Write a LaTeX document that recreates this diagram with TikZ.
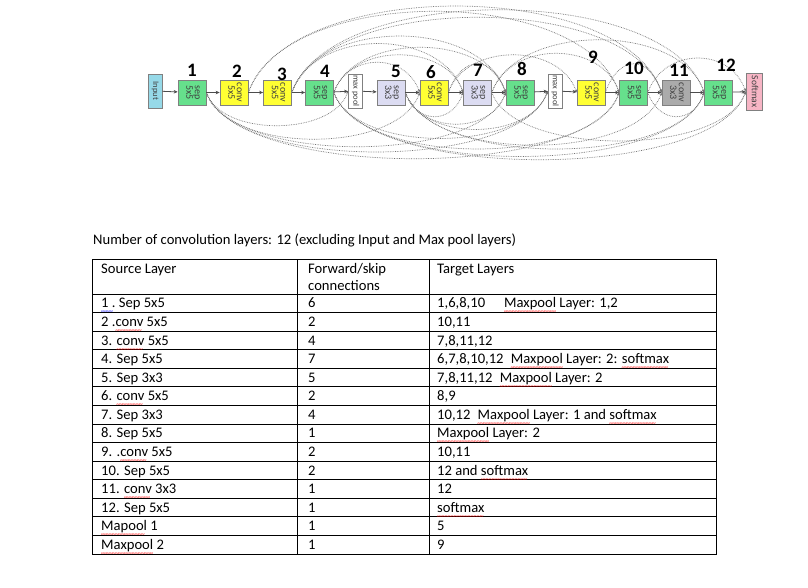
\documentclass[tikz,border=0pt]{standalone}
\usepackage{fontspec}
\setmainfont{Carlito}
\usetikzlibrary{arrows.meta}
\definecolor{cgreen}{HTML}{66E08C}
\definecolor{cyellow}{HTML}{FFFF33}
\definecolor{clav}{HTML}{DCDCF2}
\definecolor{cgray}{HTML}{ABABAB}
\definecolor{cblue}{HTML}{96D9E8}
\definecolor{cpink}{HTML}{F7B5C5}
\newcommand\rt[1]{\rotatebox{-90}{\renewcommand{\arraystretch}{0.72}\begin{tabular}{@{}c@{}}#1\end{tabular}}}
\newcommand\wv[2]{\setbox0\hbox{#2}\rlap{\raisebox{-6pt}[0pt][0pt]{\color{#1}\fontsize{7}{7}\selectfont\leaders\hbox{\kern-0.3pt\char"7E\kern-0.3pt}\hskip\wd0}}\box0\relax}
\newcommand\spl[1]{\wv{red}{#1}}
\newcommand\bwv[1]{\wv{blue}{#1}}
\newcommand\skipup[3]{\draw[skipc] (#1.east) .. controls +({0.35*#3},{-#3}) and +({-0.35*#3},{-#3}) .. (#2.west);}
\newcommand\skipdn[3]{\draw[skipc] (#1.east) .. controls +({0.35*#3},{#3}) and +({-0.35*#3},{#3}) .. (#2.west);}
\pgfdeclarelayer{bg}
\pgfsetlayers{bg,main}
\begin{document}
\begin{tikzpicture}[x=1pt,y=-1pt,
  box/.style={draw=black!50, line width=0.7pt, inner sep=0pt, minimum width=28pt, minimum height=25pt, font=\fontsize{10}{10}\selectfont, text=black!75},
  sepg/.style={box, fill=cgreen},
  convy/.style={box, fill=cyellow},
  sepl/.style={box, fill=clav},
  convg/.style={box, fill=cgray},
  tall/.style={draw=black!50, line width=0.7pt, inner sep=0pt, minimum width=14pt, minimum height=34pt, font=\fontsize{8.5}{8.5}\selectfont, text=black!75},
  num/.style={font=\fontsize{19}{19}\selectfont\bfseries, inner sep=0pt},
  fwd/.style={draw=black!70, line width=0.8pt, -{Stealth[length=4pt,width=3.5pt]}},
  skipc/.style={draw=black!55, densely dotted, line width=0.7pt, -{Stealth[length=3pt,width=2.5pt]}},
  cell/.style={anchor=base west, inner sep=0pt, font=\fontsize{14.6}{17}\selectfont},
  tline/.style={draw=black, line width=0.9pt}]
\useasboundingbox (0,0) rectangle (808,587);
\begin{pgfonlayer}{bg}
\fill[white] (0,0) rectangle (808,587);
\end{pgfonlayer}
% layers
\node[tall, fill=cblue] (in) at (155,91) {\rt{Input}};
\node[sepg] (n1) at (192,92.5) {\rt{sep\\5x5}};
\node[convy] (n2) at (234,92.5) {\rt{conv\\5x5}};
\node[convy] (n3) at (277.5,92.5) {\rt{conv\\5x5}};
\node[sepg] (n4) at (319.5,92.5) {\rt{sep\\5x5}};
\node[tall, fill=white] (mp1) at (355.5,91) {\rt{max pool}};
\node[sepl] (n5) at (391,92.5) {\rt{sep\\3x3}};
\node[convy] (n6) at (434,92.5) {\rt{conv\\5x5}};
\node[sepl] (n7) at (477.5,92.5) {\rt{sep\\3x3}};
\node[sepg] (n8) at (520,92.5) {\rt{sep\\5x5}};
\node[tall, fill=white] (mp2) at (555,91) {\rt{max pool}};
\node[convy] (n9) at (591,92.5) {\rt{conv\\5x5}};
\node[sepg] (n10) at (633.5,92.5) {\rt{sep\\5x5}};
\node[convg] (n11) at (676,92.5) {\rt{conv\\3x3}};
\node[sepg] (n12) at (718.5,92.5) {\rt{sep\\5x5}};
\node[tall, fill=cpink, minimum width=16pt, minimum height=37pt, font=\fontsize{9.5}{9.5}\selectfont] (sm) at (754,91.5) {\rt{Softmax}};
% numbers
\node[num] (l1) at (192,70) {1};
\node[num] (l2) at (237,71) {2};
\node[num] (l3) at (282,74) {3};
\node[num] (l4) at (325,71) {4};
\node[num] (l5) at (396,71) {5};
\node[num] (l6) at (431,72) {6};
\node[num] (l7) at (478,70) {7};
\node[num] (l8) at (522,69) {8};
\node[num] (l9) at (593,57) {9};
\node[num] (l10) at (634,68) {10};
\node[num] (l11) at (679,70) {11};
\node[num] (l12) at (726,65) {12};
% forward arrows
\draw[fwd] (in) -- (n1);
\draw[fwd] (n1) -- (n2);
\draw[fwd] (n2) -- (n3);
\draw[fwd] (n3) -- (n4);
\draw[fwd] (n4) -- (mp1);
\draw[fwd] (mp1) -- (n5);
\draw[fwd] (n5) -- (n6);
\draw[fwd] (n6) -- (n7);
\draw[fwd] (n7) -- (n8);
\draw[fwd] (n8) -- (mp2);
\draw[fwd] (mp2) -- (n9);
\draw[fwd] (n9) -- (n10);
\draw[fwd] (n10) -- (n11);
\draw[fwd] (n11) -- (n12);
\draw[fwd] (n12) -- (sm);
% skip connections
\begin{pgfonlayer}{bg}
\skipup{n2}{n11}{115}
\skipup{n2}{n10}{108}
\skipup{n3}{n12}{110}
\skipup{n3}{n11}{100}
\skipup{n3}{n8}{75}
\skipup{n3}{n7}{65}
\skipup{n4}{n8}{60}
\skipup{n4}{n7}{50}
\skipup{n4}{n6}{40}
\skipup{n6}{n9}{50}
\skipup{n6}{n8}{38}
\skipup{n7}{n12}{70}
\skipup{n7}{n10}{52}
\skipup{n9}{n11}{38}
\skipup{n10}{sm}{45}
\skipdn{n1}{n10}{88}
\skipdn{n1}{mp2}{80}
\skipdn{n1}{n8}{72}
\skipdn{n1}{n6}{62}
\skipdn{n1}{mp1}{45}
\skipdn{n4}{sm}{90}
\skipdn{n4}{n12}{85}
\skipdn{n4}{n10}{75}
\skipdn{n4}{mp2}{62}
\skipdn{n5}{n12}{75}
\skipdn{n5}{n11}{70}
\skipdn{n5}{mp2}{50}
\skipdn{n5}{n8}{42}
\skipdn{n5}{n7}{32}
\skipdn{n7}{sm}{65}
\skipdn{n10}{n12}{32}
\end{pgfonlayer}
% title
\node[cell] (title) at (93,244.7) {Number of convolution layers: 12 (excluding Input and Max pool layers)};
% table grid
\draw[tline] (92,259) rectangle (716,{294+18.57*14});
\draw[tline] (297,259) -- (297,{294+18.57*14});
\draw[tline] (429,259) -- (429,{294+18.57*14});
\foreach \i in {0,...,13} \draw[tline] (92,{294+18.57*\i}) -- (716,{294+18.57*\i});
% header
\node[cell] (hs) at (101,273) {Source Layer};
\node[cell] (hf) at (308,273) {Forward/skip};
\node[cell] (hf2) at (308,290.5) {connections};
\node[cell] (ht) at (437,273) {Target Layers};
% rows
\foreach \i/\a/\b/\c in {
 1/{\bwv{1 .} Sep 5x5}/6/{1,6,8,10\hspace{1.3em}\spl{Maxpool} Layer: 1,2},
 2/{2 .\spl{conv} 5x5}/2/{10,11},
 3/{3. \spl{conv} 5x5}/4/{7,8,11,12},
 4/{4. Sep 5x5}/7/{6,7,8,10,12\hspace{0.5em}\spl{Maxpool} Layer: 2: \spl{softmax}},
 5/{5. Sep 3x3}/5/{7,8,11,12\hspace{0.5em}\spl{Maxpool} Layer: 2},
 6/{6. \spl{conv} 5x5}/2/{8,9},
 7/{7. Sep 3x3}/4/{10,12\hspace{0.5em}\spl{Maxpool} Layer: 1 and \spl{softmax}},
 8/{8. Sep 5x5}/1/{\spl{Maxpool} Layer: 2},
 9/{9. .\spl{conv} 5x5}/2/{10,11},
 10/{10. Sep 5x5}/2/{12 and \spl{softmax}},
 11/{11. \spl{conv} 3x3}/1/{12},
 12/{12. Sep 5x5}/1/{\spl{softmax}},
 13/{\spl{Mapool} 1}/1/{5},
 14/{\spl{Maxpool} 2}/1/{9}}
{
 \node[cell] (s\i) at (101,{289.4+18.57*\i}) {\a};
 \node[cell] (f\i) at (308,{289.4+18.57*\i}) {\b};
 \node[cell] (t\i) at (437,{289.4+18.57*\i}) {\c};
}
\end{tikzpicture}
\end{document}
